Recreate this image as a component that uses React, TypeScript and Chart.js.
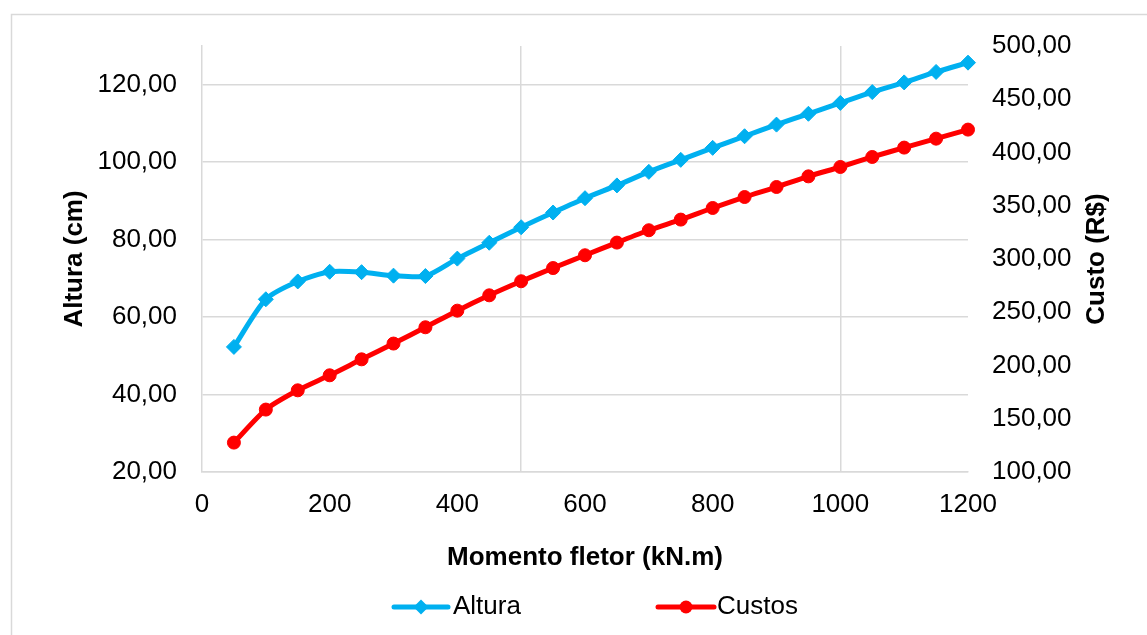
import React, { useEffect, useRef } from "react";
import { Chart, registerables } from "chart.js";

Chart.register(...registerables);

const xValues = [50, 100, 150, 200, 250, 300, 350, 400, 450, 500, 550, 600, 650, 700, 750, 800, 850, 900, 950, 1000, 1050, 1100, 1150, 1200];
const altura = [52.3, 64.6, 69.2, 71.7, 71.6, 70.7, 70.6, 75.1, 79.2, 83.2, 87.0, 90.7, 94.0, 97.5, 100.6, 103.7, 106.7, 109.7, 112.5, 115.3, 118.1, 120.6, 123.3, 125.7];
const custos = [127.6, 158.6, 176.7, 190.8, 205.8, 220.6, 235.9, 251.5, 265.9, 279.1, 291.5, 303.5, 315.4, 327.0, 337.0, 347.9, 358.2, 367.6, 377.6, 386.4, 395.8, 404.6, 413.0, 421.5];

const seriesNames = ["Altura", "Custos"];
const xTitle = "Momento fletor (kN.m)";
const yTitle = "Altura (cm)";
const y1Title = "Custo (R$)";

const BLUE = "#00B0F0";
const RED = "#FF0000";
const GRID = "#d9d9d9";
const FONT = "'Liberation Sans', Arial, sans-serif";

const fmt = (v: number) => Number(v).toFixed(2).replace(".", ",");

const extras = {
  id: "extras",
  beforeDraw(chart: any) {
    const ctx = chart.ctx;
    ctx.save();
    ctx.fillStyle = "#fff";
    ctx.fillRect(0, 0, chart.width, chart.height);
    ctx.strokeStyle = GRID;
    ctx.lineWidth = 1.5;
    ctx.strokeRect(11.5, 14.5, 3000, 3000);
    ctx.restore();
  },
  afterDraw(chart: any) {
    const ctx = chart.ctx;
    const area = chart.chartArea;
    ctx.save();
    // right axis title (rotated bottom-to-top)
    ctx.translate(1097, (area.top + area.bottom) / 2);
    ctx.rotate(-Math.PI / 2);
    ctx.font = `bold 26px ${FONT}`;
    ctx.fillStyle = "#000";
    ctx.textAlign = "center";
    ctx.textBaseline = "middle";
    ctx.fillText(y1Title, 0, 0);
    ctx.restore();

    // legend
    const ly = 607;
    const items = [
      { x0: 394, x1: 448, color: BLUE, style: "diamond", text: seriesNames[0], tx: 453 },
      { x0: 658, x1: 714, color: RED, style: "circle", text: seriesNames[1], tx: 717 },
    ];
    ctx.save();
    for (const it of items) {
      ctx.strokeStyle = it.color;
      ctx.lineWidth = 5;
      ctx.lineCap = "round";
      ctx.beginPath();
      ctx.moveTo(it.x0, ly);
      ctx.lineTo(it.x1, ly);
      ctx.stroke();
      const cx = (it.x0 + it.x1) / 2;
      ctx.fillStyle = it.color;
      ctx.beginPath();
      if (it.style === "diamond") {
        const r = 7.5;
        ctx.moveTo(cx, ly - r);
        ctx.lineTo(cx + r, ly);
        ctx.lineTo(cx, ly + r);
        ctx.lineTo(cx - r, ly);
        ctx.closePath();
      } else {
        ctx.arc(cx, ly, 6.5, 0, Math.PI * 2);
      }
      ctx.fill();
      ctx.fillStyle = "#000";
      ctx.font = `26px ${FONT}`;
      ctx.textAlign = "left";
      ctx.textBaseline = "middle";
      ctx.fillText(it.text, it.tx, ly);
    }
    ctx.restore();
  },
};

export default function App() {
  const ref = useRef<HTMLCanvasElement | null>(null);

  useEffect(() => {
    if (!ref.current) return;
    Chart.defaults.font.family = FONT;
    Chart.defaults.color = "#000";
    const chart = new Chart(ref.current, {
      type: "line",
      data: {
        datasets: [
          {
            label: seriesNames[0],
            data: xValues.map((x, i) => ({ x, y: altura[i] })),
            yAxisID: "y",
            borderColor: BLUE,
            backgroundColor: BLUE,
            borderWidth: 5,
            pointStyle: "rectRot",
            pointRadius: 7.5,
            pointBorderWidth: 1,
            pointBorderColor: BLUE,
            pointBackgroundColor: BLUE,
            tension: 0.25,
            clip: false,
            borderJoinStyle: "round",
            borderCapStyle: "round",
          },
          {
            label: seriesNames[1],
            data: xValues.map((x, i) => ({ x, y: custos[i] })),
            yAxisID: "y1",
            borderColor: RED,
            backgroundColor: RED,
            borderWidth: 5,
            pointStyle: "circle",
            pointRadius: 6.5,
            pointBorderWidth: 1,
            pointBorderColor: RED,
            pointBackgroundColor: RED,
            tension: 0.25,
            clip: false,
            borderJoinStyle: "round",
            borderCapStyle: "round",
          },
        ],
      },
      options: {
        animation: false,
        responsive: false,
        layout: { padding: { top: 46, left: 0, right: 0, bottom: 0 } },
        plugins: { legend: { display: false }, tooltip: { enabled: false } },
        scales: {
          x: {
            type: "linear",
            position: "bottom",
            min: 0,
            max: 1200,
            ticks: {
              stepSize: 100,
              autoSkip: false,
              maxRotation: 0,
              padding: 17,
              color: "#000",
              font: { size: 26 },
              callback: (v: any) => (Number(v) % 200 === 0 ? String(v) : ""),
            },
            grid: {
              drawTicks: false,
              color: (c: any) =>
                c.tick && c.tick.value % 500 === 0 && c.tick.value !== 0 ? GRID : "rgba(0,0,0,0)",
              lineWidth: 1.5,
            },
            border: { display: true, color: GRID, width: 1.5 },
            title: {
              display: true,
              text: xTitle,
              color: "#000",
              font: { size: 26, weight: "bold" },
              padding: { top: 0, bottom: 62 },
            },
            afterFit: (s: any) => {
              s.height = 163;
            },
          },
          y: {
            type: "linear",
            position: "left",
            min: 20,
            max: 130,
            ticks: {
              stepSize: 20,
              padding: 25,
              color: "#000",
              font: { size: 26 },
              callback: (v: any) => fmt(v),
            },
            afterBuildTicks: (s: any) => {
              s.ticks = s.ticks.filter((t: any) => t.value <= 120);
            },
            grid: { drawTicks: false, color: GRID, lineWidth: 1.5 },
            border: { display: true, color: GRID, width: 1.5 },
            title: {
              display: true,
              text: yTitle,
              color: "#000",
              font: { size: 26, weight: "bold" },
              padding: { top: 59, bottom: 0 },
            },
            afterFit: (s: any) => {
              s.width = 202;
            },
          },
          y1: {
            type: "linear",
            position: "right",
            min: 100,
            max: 500,
            ticks: {
              stepSize: 50,
              padding: 24,
              color: "#000",
              font: { size: 26 },
              callback: (v: any) => fmt(v),
            },
            grid: { drawOnChartArea: false, drawTicks: false },
            border: { display: false },
            afterFit: (s: any) => {
              s.width = 179;
            },
          },
        },
      },
      plugins: [extras],
    } as any);
    return () => chart.destroy();
  }, []);

  return (
    <div style={{ position: "fixed", left: 0, top: 0, width: 1147, height: 635, background: "#fff" }}>
      <canvas ref={ref} width={1147} height={635} style={{ display: "block", width: 1147, height: 635 }} />
    </div>
  );
}
